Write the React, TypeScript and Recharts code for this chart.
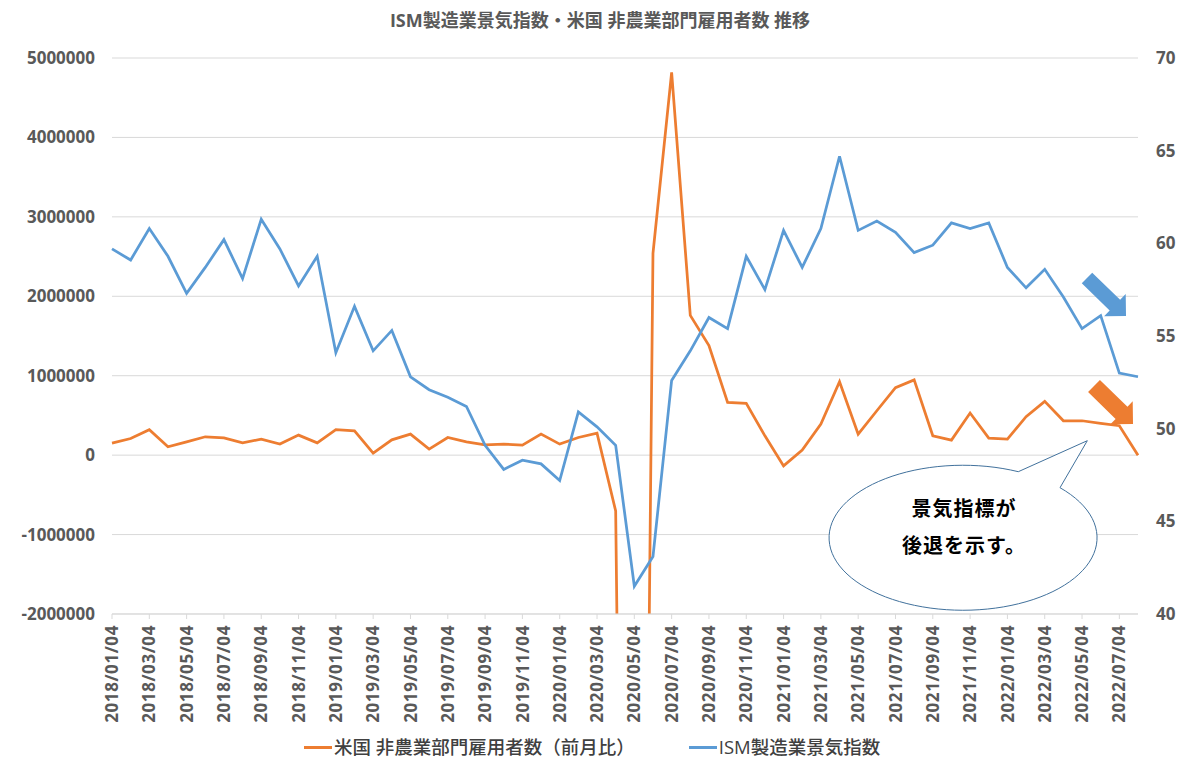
import { LineChart, Line, XAxis, YAxis, CartesianGrid } from 'recharts';

const DATES = [
  '2018/01/04', '2018/02/04', '2018/03/04', '2018/04/04', '2018/05/04', '2018/06/04',
  '2018/07/04', '2018/08/04', '2018/09/04', '2018/10/04', '2018/11/04', '2018/12/04',
  '2019/01/04', '2019/02/04', '2019/03/04', '2019/04/04', '2019/05/04', '2019/06/04',
  '2019/07/04', '2019/08/04', '2019/09/04', '2019/10/04', '2019/11/04', '2019/12/04',
  '2020/01/04', '2020/02/04', '2020/03/04', '2020/04/04', '2020/05/04', '2020/06/04',
  '2020/07/04', '2020/08/04', '2020/09/04', '2020/10/04', '2020/11/04', '2020/12/04',
  '2021/01/04', '2021/02/04', '2021/03/04', '2021/04/04', '2021/05/04', '2021/06/04',
  '2021/07/04', '2021/08/04', '2021/09/04', '2021/10/04', '2021/11/04', '2021/12/04',
  '2022/01/04', '2022/02/04', '2022/03/04', '2022/04/04', '2022/05/04', '2022/06/04',
  '2022/07/04', '2022/08/04',
];

// 米国 非農業部門雇用者数（前月比）
const NFP = [
  151000, 210000, 320000, 105000, 168000, 231000, 218000, 155000, 202000, 139000, 252000, 155000,
  320000, 307000, 25000, 193000, 265000, 76000, 222000, 168000, 128000, 139000, 126000, 265000,
  139000, 222000, 278000, -703000, -20500000, 2540000, 4820000, 1760000, 1380000, 664000, 652000, 243000,
  -135000, 63000, 391000, 925000, 265000, 559000, 850000, 947000, 244000, 189000, 530000, 215000,
  202000, 484000, 677000, 433000, 433000, 399000, 370000, 0,
];

// ISM製造業景気指数
const ISM = [
  59.7, 59.1, 60.8, 59.3, 57.3, 58.7, 60.2, 58.1, 61.3, 59.7, 57.7, 59.3,
  54.1, 56.6, 54.2, 55.3, 52.8, 52.1, 51.7, 51.2, 49.1, 47.8, 48.3, 48.1,
  47.2, 50.9, 50.1, 49.1, 41.5, 43.1, 52.6, 54.2, 56.0, 55.4, 59.3, 57.5,
  60.7, 58.7, 60.8, 64.7, 60.7, 61.2, 60.6, 59.5, 59.9, 61.1, 60.8, 61.1,
  58.7, 57.6, 58.6, 57.1, 55.4, 56.1, 53.0, 52.8,
];

const LEFT_TICKS = [-2000000, -1000000, 0, 1000000, 2000000, 3000000, 4000000, 5000000];
const RIGHT_TICKS = [40, 45, 50, 55, 60, 65, 70];

const NFP_LABEL = '米国 非農業部門雇用者数（前月比）';
const ISM_LABEL = 'ISM製造業景気指数';
const TITLE = 'ISM製造業景気指数・米国 非農業部門雇用者数 推移';
const NOTE = ['景気指標が', '後退を示す。'];

const ORANGE = '#ed7d31';
const BLUE = '#5b9bd5';
const GREY = '#595959';
const FONT = "'Open Sans', 'Noto Sans CJK JP', sans-serif";

const data = DATES.map((date, i) => ({ date, nfp: NFP[i], ism: ISM[i] }));

const DateTick = ({ x, y, payload }: any) => (
  <g transform={`translate(${x},${y})`}>
    <text
      transform="rotate(-90)"
      textAnchor="end"
      dy="0.36em"
      fontSize={17}
      fontWeight="bold"
      letterSpacing={0.6}
      fill={GREY}
      fontFamily={FONT}
    >
      {payload.value}
    </text>
  </g>
);

// thick block arrow from tail to tip
function arrowPoints(tx: number, ty: number, px: number, py: number, shaft: number, head: number, headLen: number) {
  const len = Math.hypot(px - tx, py - ty);
  const ux = (px - tx) / len, uy = (py - ty) / len;
  const nx = -uy, ny = ux;
  const bx = px - ux * headLen, by = py - uy * headLen;
  const pts = [
    [tx + nx * shaft, ty + ny * shaft],
    [bx + nx * shaft, by + ny * shaft],
    [bx + nx * head, by + ny * head],
    [px, py],
    [bx - nx * head, by - ny * head],
    [bx - nx * shaft, by - ny * shaft],
    [tx - nx * shaft, ty - ny * shaft],
  ];
  return pts.map(p => p.join(',')).join(' ');
}

export default function App() {
  return (
    <div style={{ position: 'absolute', left: 0, top: 0, width: 1200, height: 770, background: '#fff', fontFamily: FONT }}>
      <div style={{ position: 'absolute', top: 8, left: 0, width: 1200, textAlign: 'center', fontSize: 18, fontWeight: 'bold', color: GREY, lineHeight: '24px' }}>
        {TITLE}
      </div>

      <LineChart width={1200} height={770} data={data} margin={{ top: 58, right: 0, bottom: 36, left: 0 }}>
        <CartesianGrid yAxisId="left" vertical={false} stroke="#d9d9d9" />
        <XAxis
          dataKey="date"
          interval={1}
          height={120}
          tick={<DateTick />}
          tickSize={5}
          tickMargin={6}
          axisLine={{ stroke: '#d9d9d9' }}
          tickLine={{ stroke: '#d9d9d9' }}
        />
        <YAxis
          yAxisId="left"
          width={112}
          domain={[-2000000, 5000000]}
          ticks={LEFT_TICKS}
          allowDataOverflow
          axisLine={false}
          tickLine={false}
          tickMargin={11}
          tick={{ fontSize: 17, fontWeight: 'bold', fill: GREY, fontFamily: FONT }}
        />
        <YAxis
          yAxisId="right"
          orientation="right"
          width={62}
          domain={[40, 70]}
          ticks={RIGHT_TICKS}
          allowDataOverflow
          axisLine={false}
          tickLine={false}
          tickMargin={12}
          tick={{ fontSize: 17, fontWeight: 'bold', fill: GREY, fontFamily: FONT }}
        />
        <Line yAxisId="left" dataKey="nfp" stroke={ORANGE} strokeWidth={2.75} dot={false} isAnimationActive={false} />
        <Line yAxisId="right" dataKey="ism" stroke={BLUE} strokeWidth={2.75} dot={false} isAnimationActive={false} />
      </LineChart>

      <svg width={1200} height={770} style={{ position: 'absolute', left: 0, top: 0, pointerEvents: 'none' }}>
        <polygon points={arrowPoints(1087, 278, 1126, 316, 7.5, 15.5, 15.5)} fill={BLUE} />
        <polygon points={arrowPoints(1094, 386, 1133, 424, 8.5, 16, 16)} fill={ORANGE} />
        <path
          d="M1018.3,471.7 A134,72.5 0 1 0 1060,487.7 L1087.3,440.7 Z"
          fill="#fff"
          stroke="#41719c"
          strokeWidth={1}
        />
        <text x={964} y={509} dy="0.36em" textAnchor="middle" fontSize={20} fontWeight="bold" letterSpacing={1} fill="#000" fontFamily={FONT}>
          {NOTE[0]}
        </text>
        <text x={964} y={546} dy="0.36em" textAnchor="middle" fontSize={20} fontWeight="bold" letterSpacing={1} fill="#000" fontFamily={FONT}>
          {NOTE[1]}
        </text>
      </svg>

      <div style={{ position: 'absolute', top: 734, left: 304, display: 'flex', alignItems: 'center', fontSize: 18.5, fontWeight: 500, color: '#404040', lineHeight: '26px' }}>
        <span style={{ display: 'inline-block', width: 28, height: 3, background: ORANGE, marginRight: 2 }} />
        <span>{NFP_LABEL}</span>
        <span style={{ display: 'inline-block', width: 28, height: 3, background: BLUE, marginLeft: 54, marginRight: 2 }} />
        <span>{ISM_LABEL}</span>
      </div>
    </div>
  );
}
